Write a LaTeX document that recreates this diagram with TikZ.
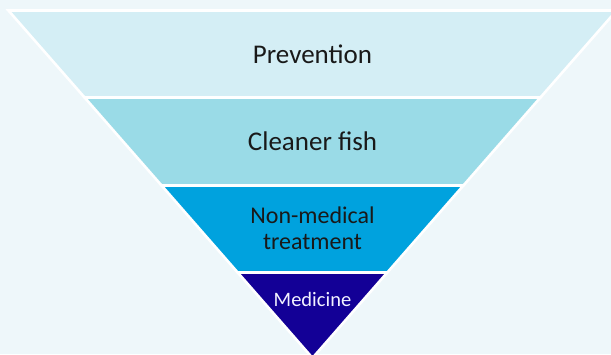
\documentclass[tikz,border=0pt]{standalone}
\usepackage{fontspec}
\setmainfont{Carlito}
\definecolor{bgblue}{HTML}{EEF7FA}
\definecolor{paleblue}{HTML}{D4EEF5}
\definecolor{lightblue}{HTML}{9ADBE7}
\definecolor{midblue}{HTML}{00A2DE}
\definecolor{darkblue}{HTML}{130096}

\begin{document}
\begin{tikzpicture}[x=1pt, y=-1pt,
    band/.style={draw=white, line width=2.6pt, line join=miter},
    lbl/.style={inner sep=0pt, align=center, text=black!90}]
    \clip (0,0) rectangle (611,354);
    \fill[bgblue] (0,0) rectangle (611,354);
    \coordinate (l0) at (8.4,10.5);   \coordinate (r0) at (616.6,10.5);
    \coordinate (l1) at (84.6,97.5);  \coordinate (r1) at (540.4,97.5);
    \coordinate (l2) at (161.6,185.5); \coordinate (r2) at (463.4,185.5);
    \coordinate (l3) at (237.7,272.5); \coordinate (r3) at (387.3,272.5);
    \coordinate (tip) at (312.5,358);
    \draw[band, fill=paleblue] (l0) -- (r0) -- (r1) -- (l1) -- cycle;
    \draw[band, fill=lightblue] (l1) -- (r1) -- (r2) -- (l2) -- cycle;
    \draw[band, fill=midblue] (l2) -- (r2) -- (r3) -- (l3) -- cycle;
    \draw[band, fill=darkblue] (l3) -- (r3) -- (tip) -- cycle;
    \node[lbl, font=\fontsize{27}{30}\selectfont] (prev) at (312.5,54) {Prevention};
    \node[lbl, font=\fontsize{27}{30}\selectfont] (fish) at (312.5,141) {Cleaner fish};
    \node[lbl, font=\fontsize{24}{26}\selectfont] (nonmed) at (312.5,228) {Non-medical\\treatment};
    \node[lbl, font=\fontsize{20.5}{24}\selectfont, text=white!95!blue] (med) at (312.5,299.5) {Medicine};
\end{tikzpicture}
\end{document}
